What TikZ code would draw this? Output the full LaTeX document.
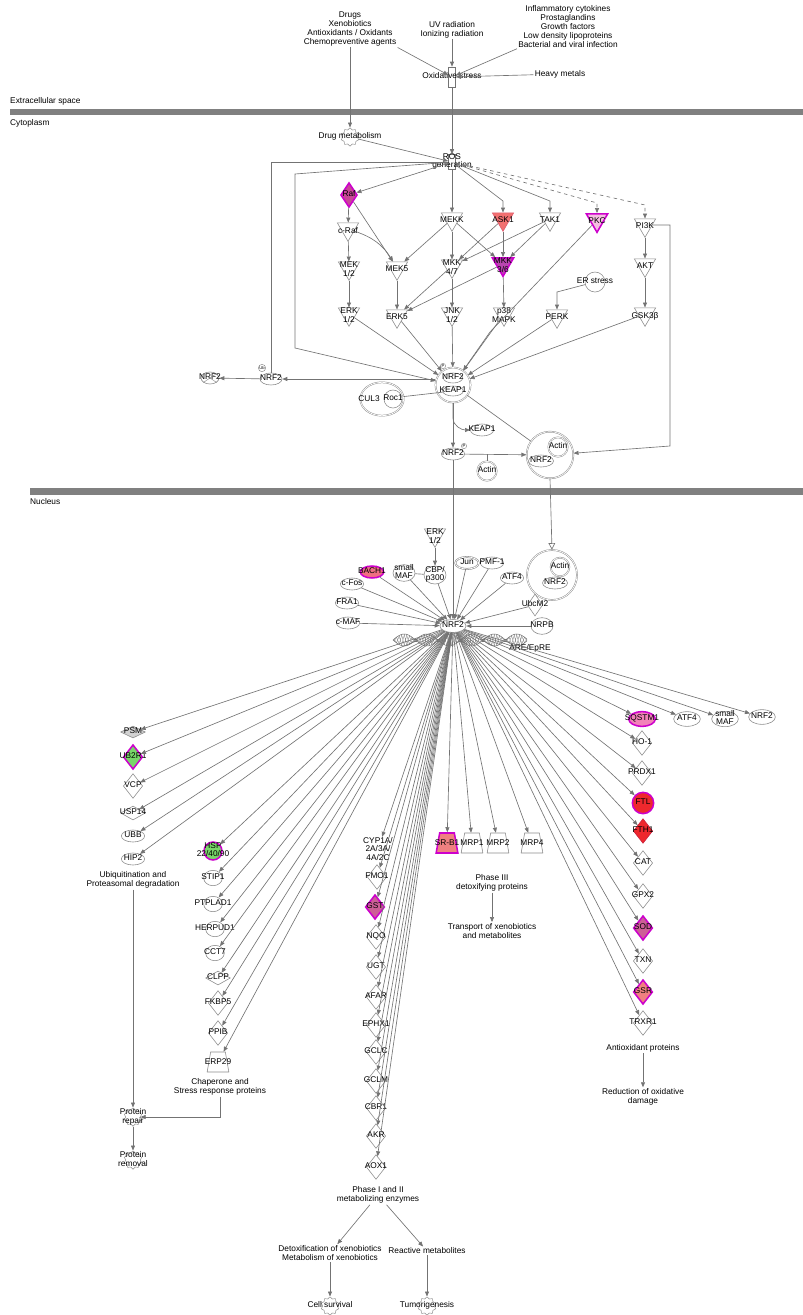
\documentclass[tikz,border=0pt]{standalone}
\usepackage{fontspec}
\setmainfont{Liberation Sans}
\usetikzlibrary{shapes.geometric,arrows.meta}
\definecolor{edgec}{RGB}{115,115,115}
\definecolor{shapec}{RGB}{140,140,140}
\definecolor{barc}{RGB}{128,128,128}
\definecolor{magc}{RGB}{204,0,204}
\definecolor{redf}{RGB}{238,40,45}
\definecolor{redd}{RGB}{200,30,60}
\definecolor{salf}{RGB}{240,128,128}
\definecolor{askf}{RGB}{242,112,112}
\definecolor{askd}{RGB}{225,90,110}
\definecolor{sqf}{RGB}{242,130,185}
\definecolor{bachf}{RGB}{240,110,130}
\definecolor{greenf}{RGB}{120,215,105}
\definecolor{psmf}{RGB}{210,210,210}
\definecolor{raff}{RGB}{200,70,150}
\definecolor{mkkf}{RGB}{185,70,175}
\definecolor{pkcf}{RGB}{245,190,225}
\definecolor{gstf}{RGB}{205,95,150}
\newcommand{\zl}[1]{\makebox[0pt]{\raisebox{-.25em}[1pt][1pt]{\begin{tabular}{@{}c@{}}#1\end{tabular}}}}
\newcommand{\zk}[1]{\makebox[0pt]{\raisebox{-1.3mm}[1pt][1pt]{\begin{tabular}{@{}c@{}}#1\end{tabular}}}}
\newcommand{\zt}[1]{\makebox[4.4mm]{\raisebox{-.25em}[3mm][3mm]{#1}}}
\renewcommand{\arraystretch}{0.9}
\tikzset{
  kinase/.style={regular polygon,regular polygon sides=3,shape border rotate=180,draw=shapec,line width=.5pt,minimum size=7.4mm,inner sep=0pt},
  enzyme/.style={diamond,draw=shapec,line width=.5pt,minimum width=5.8mm,minimum height=7.4mm,inner sep=0pt},
  pept/.style={diamond,draw=shapec,line width=.5pt,minimum width=7.4mm,minimum height=4.2mm,inner sep=0pt},
  tfac/.style={ellipse,draw=shapec,line width=.5pt,minimum width=7mm,minimum height=3.6mm,inner sep=0pt},
  other/.style={ellipse,draw=shapec,line width=.5pt,minimum width=5.6mm,minimum height=4.6mm,inner sep=0pt},
  transp/.style={trapezium,trapezium left angle=80,trapezium right angle=80,draw=shapec,line width=.5pt,inner sep=0pt},
  cplx/.style={circle,draw=shapec,line width=.4pt,double,double distance=.6pt,inner sep=0pt},
  func/.style={star,star points=10,star point ratio=1.25,draw=shapec,line width=.4pt,minimum size=5.5mm,inner sep=0pt},
  proc/.style={rectangle,draw=edgec,line width=.5pt,minimum width=2.1mm,minimum height=6mm,inner sep=0pt},
  mod/.style={circle,draw=shapec,line width=.4pt,inner sep=.4pt,font=\fontsize{3.5}{4}\selectfont},
  txt/.style={align=center,inner sep=1pt},
  hit/.style={draw=magc,line width=1.3pt},
  arr/.style={->,draw=edgec,line width=.55pt},
  ln/.style={draw=edgec,line width=.55pt}
}
\begin{document}
\begin{tikzpicture}[x=0.3mm,y=-0.3mm,>={Triangle[length=1.5mm,width=1.2mm]},font=\fontsize{7.1}{7.6}\selectfont]
\useasboundingbox (0,0) rectangle (803,1315);
% membranes
\fill[barc] (10,108.5) rectangle (803,115);
\fill[barc] (30,488) rectangle (803,494.5);
\node[anchor=west,inner sep=0] (extra) at (10,101) {Extracellular space};
\node[anchor=west,inner sep=0] (cyto) at (10,123) {Cytoplasm};
\node[anchor=west,inner sep=0] (nucl) at (30,502) {Nucleus};
% extracellular
\node[txt] (drugs) at (350,29) {Drugs\\Xenobiotics\\Antioxidants / Oxidants\\Chemopreventive agents};
\node[txt] (uv) at (452,29.5) {UV radiation\\Ionizing radiation};
\node[txt] (infl) at (568,26.5) {Inflammatory cytokines\\Prostaglandins\\Growth factors\\Low density lipoproteins\\Bacterial and viral infection};
\node[proc] (oxs) at (452,77) {\zl{Oxidative stress}};
\node[txt] (heavy) at (560,74) {Heavy metals};
% cytoplasm
\node[func] (drugmet) at (350,137) {\zl{Drug metabolism}};
\node[proc,minimum height=4.5mm] (ros) at (452,162) {\zl{ROS\\generation}};
\node[enzyme,hit,fill=raff,minimum width=5mm] (raf) at (349,195) {\zl{Raf}};
\node[kinase] (craf) at (348,229) {\zk{c-Raf}};
\node[kinase] (mek12) at (349,268) {\zk{MEK\\1/2}};
\node[kinase] (erk12) at (349,314) {\zk{ERK\\1/2}};
\node[kinase] (mek5) at (397,268) {\zk{MEK5}};
\node[kinase] (erk5) at (397,316) {\zk{ERK5}};
\node[kinase] (mekk) at (452,219) {\zk{MEKK}};
\node[kinase] (mkk47) at (452,266) {\zk{MKK\\4/7}};
\node[kinase] (jnk) at (452,314) {\zk{JNK\\1/2}};
\node[kinase,fill=askf,draw=askd] (ask1) at (503,219) {\zk{ASK1}};
\node[kinase] (tak1) at (550,219) {\zk{TAK1}};
\node[kinase,hit,fill=pkcf] (pkc) at (597,220) {\zk{PKC}};
\node[kinase] (pi3k) at (645,225) {\zk{PI3K}};
\node[kinase,hit,fill=mkkf] (mkk36) at (503,264) {\zk{MKK\\3/6}};
\node[kinase] (p38) at (504,314) {\zk{p38\\MAPK}};
\node[kinase] (akt) at (645,265) {\zk{AKT}};
\node[circle,draw=shapec,line width=.5pt,minimum size=6mm,inner sep=0pt] (ers) at (595,282) {\zl{ER stress}};
\node[kinase] (perk) at (557,316) {\zk{PERK}};
\node[kinase] (gsk3b) at (645,314) {\zk{GSK3β}};
\node[cplx,minimum size=10.5mm] (nkcx) at (453,385) {};
\node[tfac,minimum width=5.8mm,minimum height=3mm] (nrf2k) at (453,378) {\zl{NRF2}};
\node[tfac,minimum width=6.2mm,minimum height=3mm] (keap1k) at (453,391) {\zl{KEAP1}};
\node[mod] (pk) at (443,366) {P};
\node[cplx,ellipse,minimum width=13mm,minimum height=10mm] (culcx) at (382,399) {};
\node[inner sep=0pt] (cul3) at (369,399) {CUL3};
\node[other,minimum width=5.4mm,minimum height=5.4mm] (roc1) at (393,399) {\zl{Roc1}};
\node[tfac,minimum width=6.6mm] (nrf2ub) at (271,379) {\zl{NRF2}};
\node[mod] (ub) at (262,368) {Ub};
\node[tfac,minimum width=5.4mm] (nrf2x) at (210,378) {\zl{NRF2}};
\draw[shapec,line width=.4pt] (nrf2x.north west) -- (nrf2x.south east) (nrf2x.north east) -- (nrf2x.south west);
\node[tfac] (keap1f) at (482,430) {\zl{KEAP1}};
\node[tfac] (nrf2p) at (453,454) {\zl{NRF2}};
\node[mod] (pp) at (464,446) {P};
\node[cplx,minimum size=5.8mm] (actf) at (487,471) {\zl{Actin}};
\node[cplx,minimum size=14mm] (actcx) at (550,455) {};
\node[cplx,minimum size=5.8mm] (act1) at (558,447) {\zl{Actin}};
\node[tfac,minimum width=7.5mm] (nrf2a) at (541,461) {\zl{NRF2}};
% nucleus
\node[kinase] (erkn) at (435,535) {\zk{ERK\\1/2}};
\node[tfac,minimum width=6.6mm,minimum height=5.4mm] (cbp) at (435,575) {\zl{CBP/\\p300}};
\node[tfac,minimum width=6.6mm,minimum height=5mm] (smaf) at (404,573) {\zl{small\\MAF}};
\node[tfac,hit,fill=bachf] (bach1) at (372,572) {\zl{BACH1}};
\node[tfac] (cfos) at (352,584) {\zl{c-Fos}};
\node[tfac] (fra1) at (347,603) {\zl{FRA1}};
\node[tfac] (cmaf) at (348,623) {\zl{c-MAF}};
\node[tfac,double,double distance=.6pt] (jun) at (467,563) {\zl{Jun}};
\node[tfac] (pmf1) at (492,563) {\zl{PMF-1}};
\node[tfac] (atf4) at (512,578) {\zl{ATF4}};
\node[cplx,minimum size=15mm] (actcxn) at (552,575) {};
\node[cplx,minimum size=5.6mm] (act2) at (560,567) {\zl{Actin}};
\node[tfac,minimum width=7.5mm] (nrf2c) at (555,583) {\zl{NRF2}};
\node[enzyme,minimum width=4.6mm,minimum height=6.6mm] (ubcm2) at (535,605) {\zl{UbcM2}};
\node[other,minimum width=6.6mm,minimum height=5mm] (nrpb) at (542,626) {\zl{NRPB}};
\draw[edgec,line width=.45pt,domain=393:527,samples=90] plot (\x,{640+6*sin((\x-393)*8)});
\draw[edgec,line width=.45pt,domain=393:527,samples=90] plot (\x,{640-6*sin((\x-393)*8)});
\foreach \h in {394,396.5,...,524}
  \draw[edgec,line width=.25pt] (\h,{640+6*sin((\h-393)*8)}) -- (\h+3,{640-6*sin((\h-390)*8)})
    (\h+3,{640+6*sin((\h-390)*8)}) -- (\h,{640-6*sin((\h-393)*8)});
\node[tfac,fill=white,minimum width=7.8mm,minimum height=3.9mm] (nrf2n) at (453,626) {\zl{NRF2}};
\node[txt] (are) at (530,648) {ARE/EpRE};
% targets
\node[pept,fill=psmf,minimum height=3.6mm] (psm) at (133,732) {\zl{PSM}};
\node[enzyme,hit,fill=greenf] (ub2r1) at (133,757) {\zl{UB2R1}};
\node[enzyme] (vcp) at (133,786) {\zl{VCP}};
\node[pept] (usp14) at (133,813) {\zl{USP14}};
\node[tfac] (ubb) at (133,836) {\zl{UBB}};
\node[tfac] (hip2) at (133,859) {\zl{HIP2}};
\node[txt] (ubiq) at (133,880) {Ubiquitination and\\Proteasomal degradation};
\node[other,hit,fill=greenf,minimum width=5.4mm,minimum height=5.4mm] (hsp) at (213,851) {\zl{HSP\\22/40/90}};
\node[other] (stip1) at (213,878) {\zl{STIP1}};
\node[other] (ptplad1) at (213,904) {\zl{PTPLAD1}};
\node[other] (herpud1) at (215,929) {\zl{HERPUD1}};
\node[other] (cct7) at (215,953) {\zl{CCT7}};
\node[pept] (clpp) at (218,978) {\zl{CLPP}};
\node[enzyme] (fkbp5) at (218,1003) {\zl{FKBP5}};
\node[enzyme] (ppib) at (218,1033) {\zl{PPIB}};
\node[transp] (erp29) at (218,1062) {\zt{ERP29}};
\node[txt] (chap) at (220,1087) {Chaperone and\\Stress response proteins};
\node[func] (prep) at (133,1117) {\zl{Protein\\repair}};
\node[func] (prem) at (133,1160) {\zl{Protein\\removal}};
\node[txt,inner sep=0pt] (cyp) at (378,849) {CYP1A/\\2A/3A/\\4A/2C};
\node[enzyme] (fmo1) at (377,877) {\zl{FMO1}};
\node[enzyme,hit,fill=gstf] (gst) at (375,907) {\zl{GST}};
\node[enzyme] (nqo) at (376,937) {\zl{NQO}};
\node[enzyme] (ugt) at (376,967) {\zl{UGT}};
\node[enzyme] (afar) at (376,997) {\zl{AFAR}};
\node[enzyme] (ephx1) at (376,1025) {\zl{EPHX1}};
\node[enzyme] (gclc) at (376,1052) {\zl{GCLC}};
\node[enzyme] (gclm) at (376,1081) {\zl{GCLM}};
\node[enzyme] (cbr1) at (376,1108) {\zl{CBR1}};
\node[enzyme] (akr) at (376,1136) {\zl{AKR}};
\node[enzyme] (aox1) at (376,1167) {\zl{AOX1}};
\node[txt] (phase12) at (378,1195) {Phase I and II\\metabolizing enzymes};
\node[txt] (detox) at (330,1253) {Detoxification of xenobiotics\\Metabolism of xenobiotics};
\node[txt] (reactive) at (427,1251) {Reactive metabolites};
\node[func] (cellsurv) at (330,1306) {\zl{Cell survival}};
\node[func] (tumor) at (427,1306) {\zl{Tumorigenesis}};
\node[transp,hit,fill=salf] (srb1) at (447,843) {\zt{SR-B1}};
\node[transp] (mrp1) at (472,843) {\zt{MRP1}};
\node[transp] (mrp2) at (498,843) {\zt{MRP2}};
\node[transp] (mrp4) at (532,843) {\zt{MRP4}};
\node[txt] (phase3) at (492,883) {Phase III\\detoxifying proteins};
\node[txt] (transport) at (492,931) {Transport of xenobiotics\\and metabolites};
\node[tfac,hit,fill=sqf,minimum width=8mm,minimum height=4.4mm] (sqstm1) at (642,719) {\zl{SQSTM1}};
\node[tfac,minimum width=8mm,minimum height=4.4mm] (atf4b) at (687,719) {\zl{ATF4}};
\node[tfac,minimum width=8mm,minimum height=4.6mm] (smafb) at (725,719) {\zl{small\\MAF}};
\node[tfac,minimum width=8mm,minimum height=4.4mm] (nrf2b) at (762,717) {\zl{NRF2}};
\node[enzyme] (ho1) at (642,743) {\zl{HO-1}};
\node[enzyme] (prdx1) at (642,773) {\zl{PRDX1}};
\node[other,hit,fill=redf,minimum width=6.4mm,minimum height=6.4mm] (ftl) at (643,803) {\zl{FTL}};
\node[enzyme,draw=redd,fill=redf] (fth1) at (643,831) {\zl{FTH1}};
\node[enzyme] (cat) at (643,863) {\zl{CAT}};
\node[enzyme] (gpx2) at (643,896) {\zl{GPX2}};
\node[enzyme,hit,fill=gstf] (sod) at (643,928) {\zl{SOD}};
\node[enzyme] (txn) at (643,961) {\zl{TXN}};
\node[enzyme,hit,fill=salf] (gsr) at (643,992) {\zl{GSR}};
\node[enzyme] (trxr1) at (643,1023) {\zl{TRXR1}};
\node[txt] (antiox) at (643,1048) {Antioxidant proteins};
\node[txt] (reduct) at (643,1097) {Reduction of oxidative\\damage};
% connectors, outside the cell
\draw[arr] (drugs) -- (drugmet);
\draw[arr] (drugs.south east) -- (oxs);
\draw[arr] (uv) -- (oxs);
\draw[arr] (infl.south west) -- (oxs);
\draw[arr] (heavy) -- (oxs);
\draw[arr] (oxs) -- (ros);
% cytoplasm
\draw[arr] (drugmet) -- (ros);
\draw[arr] (ros) -- (raf);
\draw[arr] (ros) -- (mekk);
\draw[arr] (ros) -- (503,201) -- (ask1);
\draw[arr] (ros) -- (550,201) -- (tak1);
\draw[arr,dashed] (ros) -- (597,203) -- (pkc);
\draw[arr,dashed] (ros) -- (645,205) -- (pi3k);
\draw[ln] (ros) -- (271,162) -- (nrf2ub);
\draw[arr] (ros) -- (295,174) -- (295,348) -- (nkcx);
\draw[arr] (raf) -- (craf);
\draw[arr] (raf) -- (mek5);
\draw[arr] (craf) -- (mek12);
\draw[arr] (craf) to[bend left=20] (mek5);
\draw[arr] (mek12) -- (erk12);
\draw[arr] (mek5) -- (erk5);
\draw[arr] (mekk) -- (mek5);
\draw[arr] (mekk) -- (mkk47);
\draw[arr] (mekk) -- (mkk36);
\draw[arr] (ask1) -- (mkk47);
\draw[arr] (ask1) -- (mkk36);
\draw[arr] (tak1) -- (mkk47);
\draw[arr] (tak1) -- (mkk36);
\draw[arr] (mkk47) -- (jnk);
\draw[arr] (mkk36) -- (p38);
\draw[arr] (mkk47) -- (erk5);
\draw[arr] (mkk36) -- (erk5);
\draw[arr] (pkc) -- (490,332) -- (nkcx);
\draw[arr] (ers) -- (557,292) -- (perk);
\draw[arr] (pi3k) -- (akt);
\draw[arr] (akt) -- (gsk3b);
\draw[arr] (pi3k.east) -- (670,225) -- (670,446) -- (actcx);
\foreach \s in {erk12,erk5,jnk,p38,perk,gsk3b}
  \draw[arr] (\s) -- (nkcx);
\draw[arr] (nkcx.west |- nrf2ub) -- (nrf2ub);
\draw[arr] (nrf2ub) -- (nrf2x);
\draw[ln] (culcx) -- (keap1k);
\draw[arr] (nkcx.south) -- (453,418) to[out=-90,in=180] (keap1f.west);
\draw[arr] (nkcx) -- (nrf2p);
\draw[ln] (nkcx) -- (actcx);
\draw[arr] (nrf2p) -- (actcx);
\draw[ln] (actf) -- (actf |- nrf2p);
\draw[arr] (nrf2p) -- (nrf2n);
\draw[-{Triangle[open,length=2mm,width=2mm]},draw=edgec,line width=.55pt] (actcx.south) -- (actcxn.north);
% nucleus
\draw[arr] (erkn) -- (cbp);
\draw[ln] (smaf) -- (cbp);
\foreach \s in {bach1,cfos,fra1,cmaf,smaf,cbp,jun,pmf1,atf4,ubcm2,nrpb}
  \draw[arr] (\s) -- (nrf2n);
\foreach \t in {psm,ub2r1,vcp,usp14,ubb,hip2,hsp,stip1,ptplad1,herpud1,cct7,clpp,fkbp5,ppib,erp29,cyp,fmo1,gst,nqo,ugt,afar,ephx1,gclc,gclm,cbr1,akr,aox1,srb1,mrp1,mrp2,mrp4,sqstm1,atf4b,smafb,nrf2b,ho1,prdx1,ftl,fth1,cat,gpx2,sod,txn,gsr,trxr1}
  \draw[arr] (nrf2n) -- (\t);
\draw[arr] (ubiq) -- (prep);
\draw[arr] (chap.south) |- (prep);
\draw[arr] (prep) -- (prem);
\draw[arr] (phase3) -- (transport);
\draw[arr] (antiox) -- (reduct);
\draw[arr] (phase12) -- (detox);
\draw[arr] (phase12) -- (reactive);
\draw[arr] (detox) -- (cellsurv);
\draw[arr] (reactive) -- (tumor);
\end{tikzpicture}
\end{document}
